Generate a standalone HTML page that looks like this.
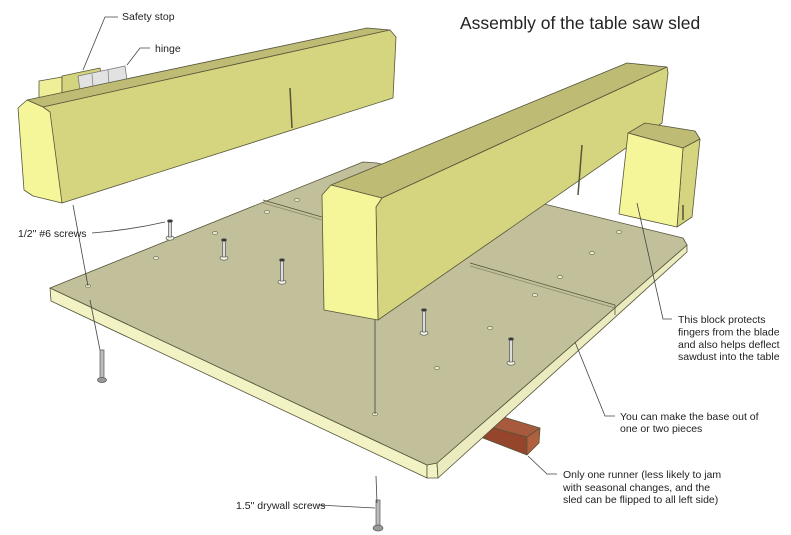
<!DOCTYPE html>
<html><head><meta charset="utf-8"><style>
html,body{margin:0;padding:0;background:#fff;}
svg{display:block;}
text{font-family:"Liberation Sans",sans-serif;fill:#222;}
</style></head><body>
<svg width="791" height="535" viewBox="0 0 791 535" xmlns="http://www.w3.org/2000/svg">
<g stroke="#55553a" stroke-width="0.8" stroke-linejoin="round">
<!-- runner -->
<polygon points="490,427 500,416 540,428 527,437" fill="#a85a3e"/>
<polygon points="483,438 490,427 527,437 527,455" fill="#94452c"/>
<polygon points="527,437 540,428 539,443 527,455" fill="#b0603f"/>
<!-- plate edges -->
<polygon points="50,288 427,465 427,478 51,301" fill="#f2f2c4"/>
<polygon points="427,465 437,463 438,478 427,478" fill="#f2f2c4"/>
<polygon points="437,463 687,245 687,252 438,478" fill="#ecebc0"/>
<!-- plate top -->
<polygon points="50,288 363,162 377,163 683,238 687,245 437,463 427,465" fill="#c1c09a"/>
<!-- seams -->
<polyline points="263,200 322,217" fill="none"/>
<polyline points="263,203 322,220" fill="none" stroke="#8a8a6a"/>
<polyline points="470,263 615,305" fill="none"/>
<polyline points="470,266 615,308" fill="none" stroke="#8a8a6a"/>
<line x1="615" y1="305" x2="615" y2="315"/>
</g>
<!-- holes -->
<g fill="#e8e8d0" stroke="#66664a" stroke-width="0.6">
<ellipse cx="156" cy="258" rx="2.5" ry="1.6"/><ellipse cx="215" cy="233" rx="2.5" ry="1.6"/>
<ellipse cx="267" cy="212" rx="2.5" ry="1.6"/><ellipse cx="297" cy="200" rx="2.5" ry="1.6"/>
<ellipse cx="88" cy="286" rx="2.5" ry="1.6"/><ellipse cx="490" cy="328" rx="2.5" ry="1.6"/>
<ellipse cx="437" cy="368" rx="2.5" ry="1.6"/><ellipse cx="535" cy="295" rx="2.5" ry="1.6"/>
<ellipse cx="560" cy="277" rx="2.5" ry="1.6"/><ellipse cx="592" cy="253" rx="2.5" ry="1.6"/>
<ellipse cx="619" cy="232" rx="2.5" ry="1.6"/><ellipse cx="375" cy="414" rx="2.5" ry="1.6"/>
</g>
<!-- top screws -->
<g stroke="#555" stroke-width="0.7">
<g fill="#f4f4e4"><ellipse cx="170" cy="238" rx="4" ry="2.2"/><ellipse cx="224" cy="258" rx="4" ry="2.2"/><ellipse cx="282" cy="282" rx="4" ry="2.2"/><ellipse cx="424" cy="333" rx="4" ry="2.2"/><ellipse cx="511" cy="363" rx="4" ry="2.2"/></g>
<g fill="#ddd"><rect x="168.5" y="221" width="3" height="16"/><rect x="222.5" y="240" width="3" height="17"/><rect x="280.5" y="260" width="3" height="21"/><rect x="422.5" y="310" width="3" height="22"/><rect x="509.5" y="339" width="3" height="23"/></g>
<g fill="#333"><ellipse cx="170" cy="221" rx="2.5" ry="1.3"/><ellipse cx="224" cy="240" rx="2.5" ry="1.3"/><ellipse cx="282" cy="260" rx="2.5" ry="1.3"/><ellipse cx="424" cy="310" rx="2.5" ry="1.3"/><ellipse cx="511" cy="339" rx="2.5" ry="1.3"/></g>
</g>
<!-- bottom screws -->
<g stroke="#555" stroke-width="0.7" fill="#bbb">
<rect x="100" y="350" width="4" height="28"/><ellipse cx="102" cy="380" rx="4.5" ry="2.5" fill="#999"/>
<rect x="376" y="500" width="4" height="28"/><ellipse cx="378" cy="528" rx="5" ry="3" fill="#999"/>
</g>
<g stroke="#55553a" stroke-width="0.8" stroke-linejoin="round">
<!-- safety stop & hinge -->
<polygon points="39,81 62,77 62,97 39,99" fill="#efef9a"/>
<polygon points="62,76 100,68 103,85 62,93" fill="#d4d37e"/>
<polygon points="78,76 125,66 127,80 80,90" fill="#e2e2e2" stroke="#777"/>
<line x1="92" y1="74" x2="93" y2="87" stroke="#888"/><line x1="108" y1="70" x2="109" y2="84" stroke="#888"/>
<!-- left fence -->
<polygon points="27,100 367,28 390,30 43,107" fill="#bdbb74"/>
<polygon points="43,107 390,30 396,37 393,98 62,203" fill="#d6d57f"/>
<polygon points="18,108 27,100 43,107 50,112 62,203 33,196 24,190" fill="#f5f59a"/>
<line x1="290" y1="88" x2="292" y2="128" stroke-width="1.5"/>
<!-- center fence -->
<polygon points="331,185 627,63 667,67 382,198" fill="#bdbb74"/>
<polygon points="382,198 667,67 668,73 662,123 378,320 376,207" fill="#d6d57f"/>
<polygon points="322,195 331,185 382,198 376,207 378,320 324,310" fill="#f5f59a"/>
<line x1="582" y1="145" x2="578" y2="195" stroke-width="1.5"/>
<!-- guard block -->
<polygon points="628,133 645,123 695,131 700,139 683,148" fill="#bdbb74"/>
<polygon points="683,148 700,139 692,217 677,227" fill="#d6d57f"/>
<polygon points="628,133 683,148 677,227 619,214" fill="#f5f59a"/>
<line x1="683" y1="205" x2="683" y2="220" stroke-width="1.5"/>
</g>
<!-- leaders -->
<g fill="none" stroke="#444" stroke-width="0.8">
<polyline points="118,17 105,17 83,70"/>
<polyline points="150,48 140,48 127,65"/>
<path d="M92,233 Q130,230 165,222"/>
<polyline points="73,205 88,286"/><polyline points="90,300 100,350"/>
<polyline points="318,505 375,508"/>
<polyline points="375,320 375,414"/><polyline points="376,476 377,503"/>
<polyline points="672,319 663,319 637,203"/>
<polyline points="615,416 605,416 575,342"/>
<polyline points="557,474 547,474 528,456"/>
</g>
<text x="460" y="29" font-size="17.5">Assembly of the table saw sled</text>
<g font-size="10.5">
<text x="122" y="20">Safety stop</text>
<text x="155" y="52">hinge</text>
<text x="18" y="237">1/2" #6 screws</text>
<text x="236" y="509">1.5" drywall screws</text>
<text x="678" y="323">This block protects</text>
<text x="678" y="335.5">fingers from the blade</text>
<text x="678" y="348">and also helps deflect</text>
<text x="678" y="360">sawdust into the table</text>
<text x="620" y="420">You can make the base out of</text>
<text x="620" y="432">one or two pieces</text>
<text x="563" y="478">Only one runner (less likely to jam</text>
<text x="563" y="491">with seasonal changes, and the</text>
<text x="563" y="503">sled can be flipped to all left side)</text>
</g>
</svg>
</body></html>
